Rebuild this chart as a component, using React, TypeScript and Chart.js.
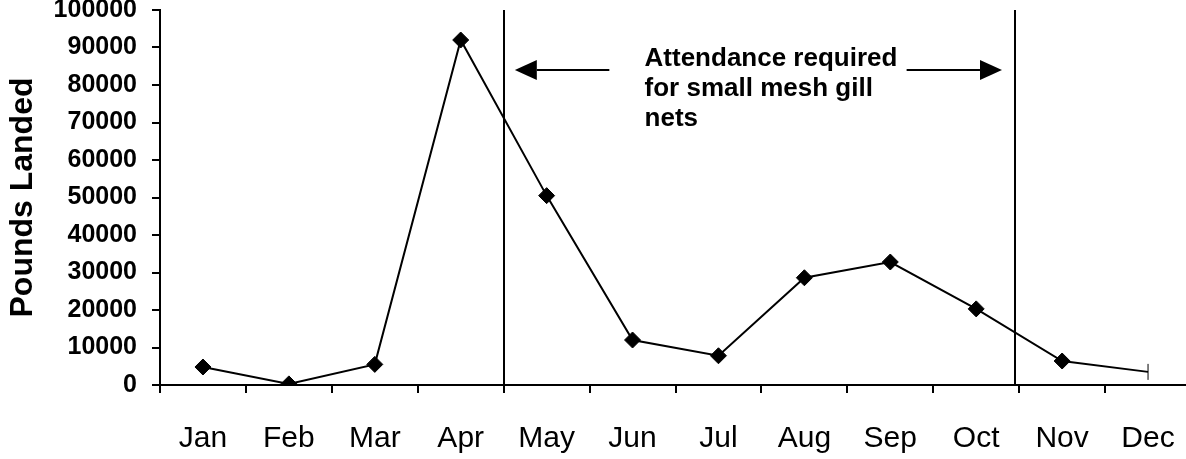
import React, { useEffect, useRef } from "react";
import { Chart, registerables } from "chart.js";

Chart.register(...registerables);

const months = ["Jan", "Feb", "Mar", "Apr", "May", "Jun", "Jul", "Aug", "Sep", "Oct", "Nov", "Dec"];
const poundsLanded = [4800, 300, 5500, 92000, 50500, 12000, 7800, 28600, 32800, 20300, 6400, 3500];
const yTicks = { min: 0, max: 100000, step: 10000 };
const markerStyles = ["rectRot", "rectRot", "rectRot", "rectRot", "rectRot", "rectRot", "rectRot", "rectRot", "rectRot", "rectRot", "rectRot", "line"];
const markerRotation = [0, 0, 0, 0, 0, 0, 0, 0, 0, 0, 0, 90];
const boundaryLines = [3.5, 9.45];
const noteLines = ["Attendance required", "for small mesh gill", "nets"];
const noteX = 5.14;
const noteY = [85000, 77000, 69000];
const leftArrow = { from: 4.73, to: 3.63, y: 84000 };
const rightArrow = { from: 8.19, to: 9.3, y: 84000 };

const FONT = "'Liberation Sans', Arial, sans-serif";

const annotations = {
  id: "annotations",
  afterDraw(chart: any) {
    const { ctx, chartArea, scales } = chart;
    const xs = scales.x;
    const ys = scales.y;
    ctx.save();
    ctx.strokeStyle = "#000";
    ctx.fillStyle = "#000";
    ctx.lineWidth = 2;
    for (const v of boundaryLines) {
      const px = Math.round(xs.getPixelForValue(v));
      ctx.beginPath();
      ctx.moveTo(px, chartArea.top);
      ctx.lineTo(px, chartArea.bottom);
      ctx.stroke();
    }
    const drawArrow = (a: any) => {
      const x1 = xs.getPixelForValue(a.from);
      const x2 = xs.getPixelForValue(a.to);
      const y = Math.round(ys.getPixelForValue(a.y));
      const dir = Math.sign(x2 - x1);
      const head = 22;
      ctx.beginPath();
      ctx.moveTo(x1, y);
      ctx.lineTo(x2 - dir * head, y);
      ctx.stroke();
      ctx.beginPath();
      ctx.moveTo(x2, y);
      ctx.lineTo(x2 - dir * head, y - 10);
      ctx.lineTo(x2 - dir * head, y + 10);
      ctx.closePath();
      ctx.fill();
    };
    drawArrow(leftArrow);
    drawArrow(rightArrow);
    ctx.font = `bold 26px ${FONT}`;
    ctx.textAlign = "left";
    ctx.textBaseline = "alphabetic";
    const tx = xs.getPixelForValue(noteX);
    noteLines.forEach((t, i) => {
      ctx.fillText(t, tx, ys.getPixelForValue(noteY[i]));
    });
    ctx.restore();
  },
};

export default function App() {
  const ref = useRef<HTMLCanvasElement>(null);
  useEffect(() => {
    const chart = new Chart(ref.current!, {
      type: "line",
      data: {
        labels: months,
        datasets: [
          {
            data: poundsLanded,
            borderColor: "#000",
            backgroundColor: "#000",
            borderWidth: 2,
            pointStyle: markerStyles as any,
            rotation: markerRotation as any,
            pointRadius: 8,
            pointBorderWidth: 1,
            tension: 0,
          },
        ],
      },
      options: {
        responsive: false,
        animation: false,
        devicePixelRatio: 1,
        layout: { padding: { top: 10, right: 8, bottom: 0, left: 0 } },
        plugins: { legend: { display: false }, tooltip: { enabled: false } },
        scales: {
          x: {
            type: "category",
            offset: true,
            grid: { offset: true, drawOnChartArea: false, drawTicks: true, tickLength: 8, lineWidth: 2, color: "#000" },
            border: { display: true, color: "#000", width: 2 },
            ticks: { color: "#000", font: { family: FONT, size: 30 }, padding: 28, maxRotation: 0, autoSkip: false },
            afterFit: (s: any) => { s.height = 74; s.paddingLeft = 0; s.paddingRight = 0; },
          },
          y: {
            min: yTicks.min,
            max: yTicks.max,
            grid: { drawOnChartArea: false, drawTicks: true, tickLength: 8, lineWidth: 2, color: "#000" },
            border: { display: true, color: "#000", width: 2 },
            ticks: { stepSize: yTicks.step, color: "#000", font: { family: FONT, size: 25, weight: "bold" }, padding: 15, callback: (v: any) => String(v) },
            title: { display: true, text: "Pounds Landed", color: "#000", font: { family: FONT, size: 32, weight: "bold" }, padding: { top: 4, bottom: 0 } },
            afterFit: (s: any) => { s.width = 160; s.paddingTop = 0; s.paddingBottom = 0; },
          },
        },
      },
      plugins: [annotations],
    });
    return () => chart.destroy();
  }, []);
  return (
    <div style={{ position: "fixed", left: 0, top: 0, width: 1186, height: 459, overflow: "hidden", background: "#fff" }}>
      <canvas ref={ref} width={1200} height={459} style={{ display: "block" }} />
    </div>
  );
}
